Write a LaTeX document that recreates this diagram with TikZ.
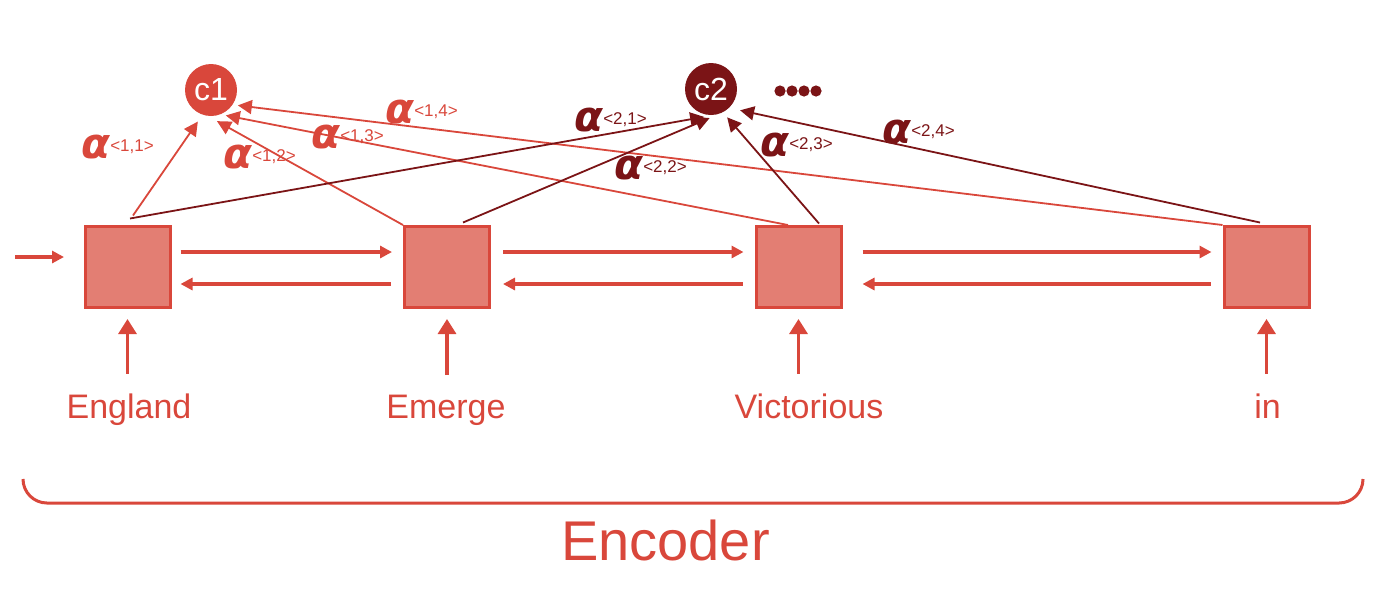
\documentclass[tikz,border=0pt]{standalone}
\usepackage{fontspec}
\setmainfont{Liberation Sans}
\newfontfamily\alfont{DejaVu Sans}
\usetikzlibrary{arrows.meta}
\definecolor{cred}{HTML}{D9473B}
\definecolor{cfill}{HTML}{E37E73}
\definecolor{cdark}{HTML}{7B1416}
\newcommand{\attn}[2]{{\alfont\bfseries\itshape\fontsize{21}{21}\selectfont α}\raisebox{3.5pt}{\fontsize{8.5}{8.5}\selectfont<#1,#2>}}
\tikzset{>={Triangle[length=6pt,width=6pt]}}

\begin{document}
\begin{tikzpicture}[x=0.5pt,y=-0.5pt,
  box/.style={draw=cred,fill=cfill,line width=1.5pt,minimum width=42.5pt,minimum height=40.5pt,inner sep=0pt},
  ctx/.style={circle,fill=#1,minimum size=26pt,inner sep=0pt,text=white,font=\fontsize{16}{16}\selectfont},
  word/.style={anchor=base,inner sep=0pt,text=cred,font=\fontsize{17}{17}\selectfont},
  lab/.style={anchor=base west,inner sep=0pt,text=cred},
  lab2/.style={lab,text=cdark},
  fw/.style={->,draw=cred,line width=1.7pt},
  up/.style={-{Triangle[length=7.5pt,width=9pt]},draw=cred,line width=1.6pt,shorten <=9.5pt,shorten >=5pt},
  a1/.style={-{Triangle[length=7pt,width=7pt]},draw=cred,line width=0.9pt},
  a2/.style={-{Triangle[length=7pt,width=7pt]},draw=cdark,line width=0.9pt}]
\useasboundingbox (0,0) rectangle (1400,591);

\node[box] (b1) at (127.5,267) {};
\node[box] (b2) at (447,267) {};
\node[box] (b3) at (798.5,267) {};
\node[box] (b4) at (1266.5,267) {};
\node[ctx=cred] (c1) at (211,90) {c1};
\node[ctx=cdark] (c2) at (711,89) {c2};
\foreach \i in {0,...,3} \fill[cdark] (780+12*\i,91) circle (2.8pt);

\node[word] (w1) at (129,418) {England};
\node[word] (w2) at (446,418) {Emerge};
\node[word] (w3) at (809,418) {Victorious};
\node[word] (w4) at (1267.5,418) {in};
\foreach \i in {1,...,4} \draw[up] (w\i.north -| b\i) -- (b\i.south);

\coordinate (x0) at (15,257);
\draw[fw,shorten >=9.75pt] (x0) -- (x0 -| b1.west);
\foreach \a/\b/\s in {1/2/4.5pt,2/3/6pt,3/4/10pt} {
  \draw[fw,shorten <=\s,shorten >=5.5pt] ([yshift=7.5pt]b\a.east) -- ([yshift=7.5pt]b\b.west);
  \draw[fw,shorten <=6pt,shorten >=\s] ([yshift=-8.5pt]b\b.west) -- ([yshift=-8.5pt]b\a.east);
}

\draw[a1,shorten >=4pt] ([xshift=2.75pt,yshift=4.75pt]b1.north) -- (c1.-109);
\draw[a1,shorten >=5pt] (b2.north west) -- (c1.-96);
\draw[a1,shorten >=2.5pt] ([xshift=-5.25pt]b3.north) -- (c1.-68);
\draw[a1,shorten >=2.5pt] (b4.north west) -- (c1.-34);
\draw[a2,shorten >=4.4pt] ([xshift=1.25pt,yshift=3.25pt]b1.north) -- (c2.-86);
\draw[a2,shorten >=4.7pt] ([xshift=8pt,yshift=1.25pt]b2.north) -- (c2.-74);
\draw[a2,shorten >=3.2pt] ([xshift=10.25pt,yshift=0.75pt]b3.north) -- (c2.-63);
\draw[a2,shorten >=5.5pt] ([xshift=-3.25pt,yshift=1.25pt]b4.north) -- (c2.-46);

\node[lab] (l11) at (81,158) {\attn{1}{1}};
\node[lab] (l12) at (223,168) {\attn{1}{2}};
\node[lab] (l13) at (311,148) {\attn{1}{3}};
\node[lab] (l14) at (385,123) {\attn{1}{4}};
\node[lab2] (l21) at (574,131) {\attn{2}{1}};
\node[lab2] (l22) at (614,179) {\attn{2}{2}};
\node[lab2] (l23) at (760,156) {\attn{2}{3}};
\node[lab2] (l24) at (882,143) {\attn{2}{4}};

\draw[cred,line width=1.5pt,rounded corners=12pt] (23,479) -- (23,503) -- (1363,503) -- (1363,479);
\node[anchor=base,inner sep=0pt,text=cred,font=\fontsize{28}{28}\selectfont] (enc) at (665.5,560) {Encoder};
\end{tikzpicture}
\end{document}
